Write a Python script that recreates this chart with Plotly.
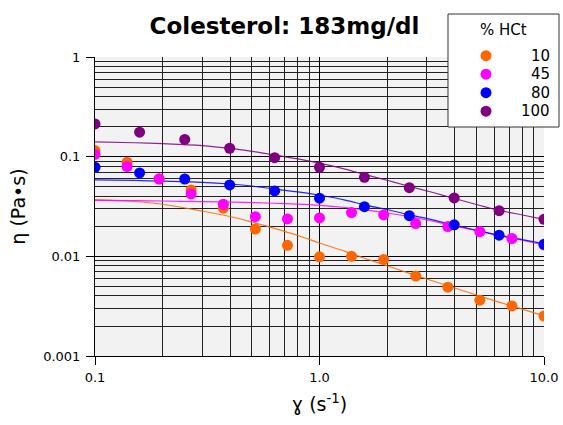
import plotly.graph_objects as go

# ---- data ----
shear_a = [0.1, 0.139, 0.193, 0.268, 0.373, 0.518, 0.720, 1.0, 1.389, 1.931, 2.683, 3.728, 5.179, 7.197, 10.0]
visc_10 = [0.115, 0.088, 0.060, 0.0463, 0.0304, 0.0188, 0.0129, 0.0099, 0.0100, 0.0093, 0.00635, 0.0049, 0.00363, 0.00318, 0.00252]
visc_45 = [0.1057, 0.0797, 0.0597, 0.0423, 0.0333, 0.025, 0.0237, 0.0243, 0.0275, 0.026, 0.0213, 0.0199, 0.0177, 0.0151, 0.013]

shear_b = [0.1, 0.158, 0.251, 0.398, 0.631, 1.0, 1.585, 2.512, 3.981, 6.310, 10.0]
visc_80 = [0.0783, 0.0687, 0.0597, 0.052, 0.0453, 0.0383, 0.0315, 0.0256, 0.0207, 0.0163, 0.0132]
visc_100 = [0.213, 0.176, 0.149, 0.1215, 0.0977, 0.0783, 0.0621, 0.0489, 0.0385, 0.0287, 0.0235]

fit_x = [0.1, 0.15, 0.2, 0.3, 0.4, 0.5, 0.63, 0.8, 1.0, 1.3, 1.6, 2.0, 2.5, 3.2, 4.0, 5.0, 6.3, 8.0, 10.0]
fit_10 = [0.037, 0.0355, 0.0333, 0.0285, 0.0251, 0.0221, 0.0191, 0.0162, 0.0136, 0.0112, 0.0095, 0.00804, 0.00679, 0.00566, 0.00481, 0.00409, 0.00347, 0.00295, 0.00253]
fit_45 = [0.0365, 0.0362, 0.0359, 0.0354, 0.035, 0.0346, 0.0341, 0.0334, 0.0325, 0.0309, 0.0292, 0.0272, 0.0251, 0.0225, 0.0202, 0.0181, 0.0162, 0.0145, 0.0130]
fit_80 = [0.0585, 0.0577, 0.0568, 0.0553, 0.0532, 0.0508, 0.0473, 0.0443, 0.041, 0.0367, 0.0327, 0.0295, 0.0262, 0.0232, 0.0205, 0.0183, 0.0163, 0.0147, 0.0134]
fit_100 = [0.141, 0.138, 0.135, 0.129, 0.121, 0.113, 0.104, 0.095, 0.086, 0.075, 0.066, 0.058, 0.0505, 0.0437, 0.038, 0.0331, 0.029, 0.026, 0.0235]

labels = ["10", "45", "80", "100"]
colors = ["#ff6600", "#ff00ff", "#0000ff", "#800080"]
legend_title = "% HCt"

x_ticks = [0.1, 1, 10]
x_ticktext = ["0.1", "1.0", "10.0"]
y_ticks = [0.001, 0.01, 0.1, 1]
y_ticktext = ["0.001", "0.01", "0.1", "1"]

FONT = "DejaVu Sans"
W, H = 563, 425
ML, MR, MT, MB = 95, 19, 57, 69
PW, PH = W - ML - MR, H - MT - MB


def px_x(px):
    return (px - ML) / PW


def px_y(py):
    return (H - MB - py) / PH


fig = go.Figure()

fits = [fit_10, fit_45, fit_80, fit_100]
for fy, c in zip(fits, colors):
    fig.add_trace(go.Scatter(x=fit_x, y=fy, mode="lines", line=dict(color=c, width=1.2, shape="spline"),
                             opacity=0.85, showlegend=False, hoverinfo="skip"))

series = [(shear_a, visc_10), (shear_a, visc_45), (shear_b, visc_80), (shear_b, visc_100)]
for (sx, sy), lab, c in zip(series, labels, colors):
    fig.add_trace(go.Scatter(x=sx, y=sy, mode="markers", name=lab, showlegend=False,
                             marker=dict(color=c, size=11, line=dict(width=0))))

axis_common = dict(type="log", showline=True, linecolor="black", linewidth=1,
                   ticks="outside", ticklen=8, tickcolor="black", tickwidth=1,
                   showgrid=True, gridcolor="black", gridwidth=1, automargin=True,
                   tickfont=dict(family=FONT, size=13, color="black"), zeroline=False)

fig.update_xaxes(**axis_common, range=[-1, 1], tickvals=x_ticks, ticktext=x_ticktext,
                 ticklabelstandoff=1,
                 minor=dict(dtick="D1", showgrid=True, gridcolor="#222", gridwidth=1, ticks=""),
                 title=dict(text="ɣ (s<sup>-1</sup>)", font=dict(family=FONT, size=19, color="black"), standoff=14))
fig.update_yaxes(**axis_common, range=[-3, 0], tickvals=y_ticks, ticktext=y_ticktext,
                 ticklabelstandoff=3,
                 minor=dict(dtick="D1", showgrid=True, gridcolor="#222", gridwidth=1, ticks=""),
                 title=dict(text="η (Pa•s)", font=dict(family=FONT, size=19, color="black"), standoff=12))

# legend box drawn in the reference position
shapes = [dict(type="rect", xref="paper", yref="paper", layer="above",
               x0=px_x(448), x1=px_x(559), y0=px_y(127), y1=px_y(14),
               fillcolor="white", line=dict(color="#333", width=1))]
annotations = [dict(text=legend_title, xref="paper", yref="paper", x=px_x(503.5), y=px_y(30),
                    xanchor="center", yanchor="middle", showarrow=False,
                    font=dict(family=FONT, size=15, color="black"))]
item_y = [55.7, 74.2, 92.7, 111.2]
for lab, c, iy in zip(labels, colors, item_y):
    shapes.append(dict(type="circle", xref="paper", yref="paper", layer="above",
                       xsizemode="pixel", ysizemode="pixel",
                       xanchor=px_x(486), yanchor=px_y(iy), x0=-5.5, x1=5.5, y0=-5.5, y1=5.5,
                       fillcolor=c, line=dict(width=0)))
    annotations.append(dict(text=lab, xref="paper", yref="paper", x=px_x(551.5), y=px_y(iy),
                            xanchor="right", yanchor="middle", showarrow=False,
                            font=dict(family=FONT, size=15, color="black")))

fig.update_layout(
    width=W, height=H,
    margin=dict(l=ML, r=MR, t=MT, b=MB, autoexpand=False),
    paper_bgcolor="white", plot_bgcolor="#f2f2f2",
    title=dict(text="<b>Colesterol: 183mg/dl</b>", x=284.5 / W, xref="container", xanchor="center",
               y=1 - 26 / H, yref="container", yanchor="middle",
               font=dict(family=FONT, size=23, color="black")),
    font=dict(family=FONT),
    showlegend=False,
    shapes=shapes,
    annotations=annotations,
)

fig.write_html("out.html")
